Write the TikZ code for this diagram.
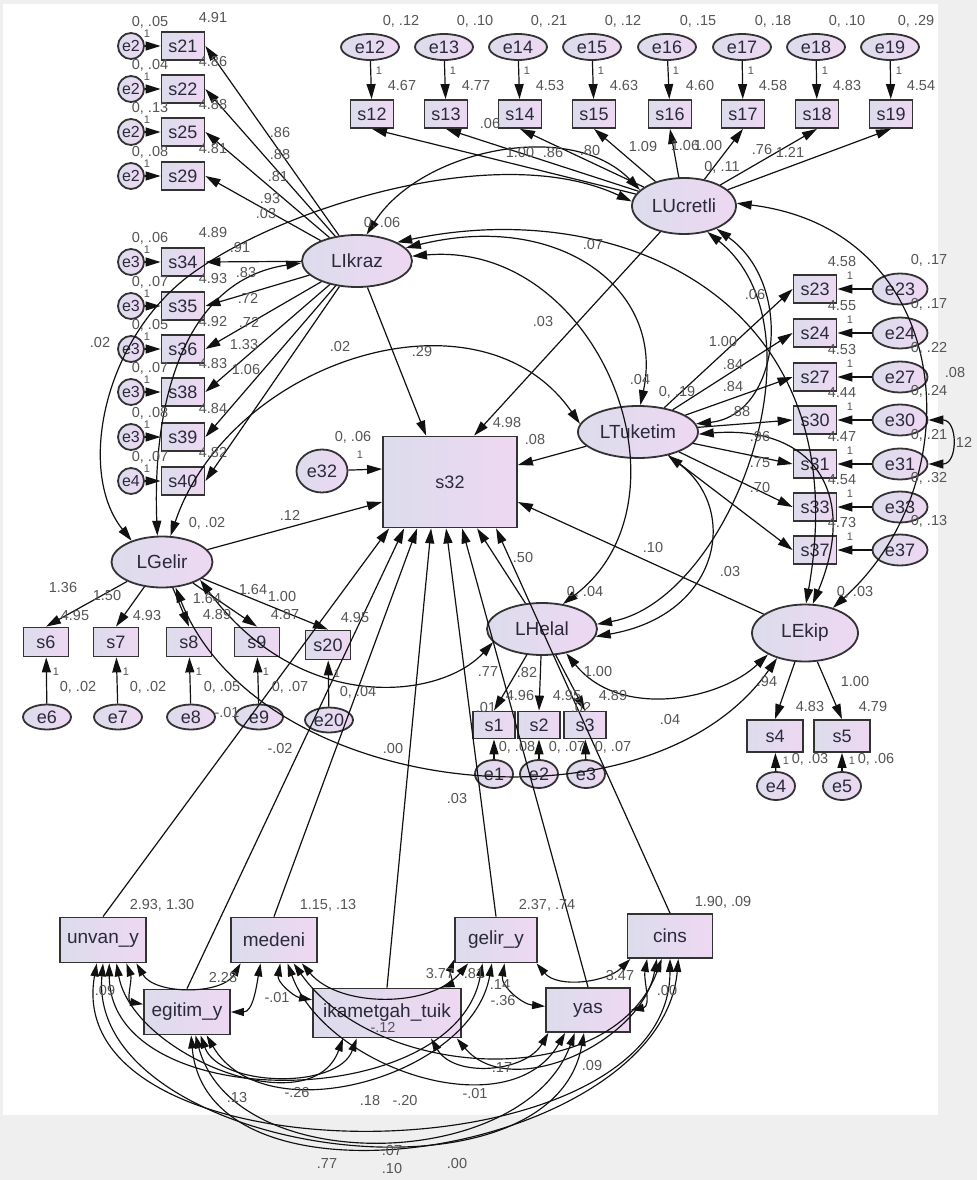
\documentclass[tikz,border=0pt]{standalone}
\usepackage{fontspec}
\setmainfont{Liberation Sans}
\usetikzlibrary{arrows.meta,shapes.geometric,calc}
\definecolor{bord}{HTML}{333333}
\definecolor{fillL}{HTML}{DCDCEC}
\definecolor{fillR}{HTML}{EED8F2}
\definecolor{labc}{HTML}{555555}
\definecolor{txt}{HTML}{2A2A3A}
\definecolor{bgg}{HTML}{EFEFEF}
\definecolor{ln}{HTML}{111111}
\begin{document}
\begin{tikzpicture}[x=1pt,y=-1pt,
 base/.style={draw=bord, line width=1.8pt, left color=fillL, right color=fillR, inner sep=0pt, text=txt, font=\fontsize{18}{18}\selectfont},
 sbox/.style={base, rectangle, minimum width=43pt, minimum height=28pt},
 gbox/.style={base, rectangle, minimum width=45pt, minimum height=29pt},
 hbox/.style={base, rectangle, minimum width=42pt, minimum height=27pt},
 kbox/.style={base, rectangle, minimum width=56pt, minimum height=32pt},
 bbox/.style={base, rectangle, minimum width=86pt, minimum height=45pt, font=\fontsize{19}{19}\selectfont},
 lat/.style={base, ellipse, font=\fontsize{19}{19}\selectfont},
 errT/.style={base, ellipse, minimum width=58pt, minimum height=26pt},
 errR/.style={base, ellipse, minimum width=55pt, minimum height=31pt},
 errC/.style={base, circle, minimum size=26pt, font=\fontsize{16}{16}\selectfont},
 errG/.style={base, ellipse, minimum width=48pt, minimum height=25pt},
 errS/.style={base, ellipse, minimum width=38pt, minimum height=28pt},
 lb/.style={font=\fontsize{14.5}{14.5}\selectfont, text=labc, inner sep=0pt},
 lbo/.style={font=\fontsize{11}{11}\selectfont, text=labc, inner sep=0pt},
 pth/.style={draw=ln, line width=1.2pt, -{Triangle[length=15pt,width=9pt]}},
 cov/.style={draw=ln, line width=1.2pt, {Triangle[length=15pt,width=9pt]}-{Triangle[length=15pt,width=9pt]}},
 cvb/.style={draw=ln, line width=1.15pt, {Triangle[length=13pt,width=8pt]}-{Triangle[length=13pt,width=8pt]}}
]
\useasboundingbox (0,0) rectangle (977,1180);
\fill[bgg] (0,0) rectangle (977,1180);
\fill[white] (3,4) rectangle (938,1115);

% ---------- latent variables ----------
\node[lat, minimum width=110pt, minimum height=52pt] (LI) at (357,261) {LIkraz};
\node[lat, minimum width=104pt, minimum height=56pt] (LU) at (684,206) {LUcretli};
\node[lat, minimum width=120pt, minimum height=52pt] (LT) at (638,432) {LTuketim};
\node[lat, minimum width=101pt, minimum height=51pt] (LG) at (162,562) {LGelir};
\node[lat, minimum width=110pt, minimum height=52pt] (LH) at (542,629) {LHelal};
\node[lat, minimum width=106pt, minimum height=57pt] (LE) at (805,633) {LEkip};
\node[base, rectangle, minimum width=134pt, minimum height=91pt] (s32) at (450,482) {s32};
\node[base, ellipse, minimum width=51pt, minimum height=43pt] (e32) at (322,471) {e32};

% ---------- top row ----------
\foreach \i/\x/\sx in {12/370/372, 13/444/446, 14/518/520, 15/592/594, 16/667/670, 17/742/743, 18/816/817, 19/890/891}{
  \node[errT] (e\i) at (\x,47) {e\i};
  \node[sbox] (s\i) at (\sx,114) {s\i};
}
% ---------- left column ----------
\foreach \i/\y/\e in {21/46/e2, 22/89/e2, 25/132/e2, 29/176/e2, 34/262/e3, 35/306/e3, 36/349/e3, 38/392/e3, 39/437/e3, 40/481/e4}{
  \node[errC] (c\i) at (131,\y) {\e};
  \node[sbox] (s\i) at (183,\y) {s\i};
}
% ---------- right column ----------
\foreach \i/\y in {23/289, 24/333, 27/377, 30/420, 31/464, 33/507, 37/550}{
  \node[sbox] (s\i) at (815,\y) {s\i};
  \node[errR] (e\i) at (900,\y) {e\i};
}
% ---------- LGelir indicators ----------
\foreach \i/\sx/\ex in {6/46/47, 7/116/118, 8/189/191, 9/257/259}{
  \node[gbox] (s\i) at (\sx,642) {s\i};
  \node[errG] (e\i) at (\ex,717) {e\i};
}
\node[gbox] (s20) at (328,645) {s20};
\node[errG] (e20) at (329,720) {e20};
% ---------- LHelal / LEkip indicators ----------
\foreach \i/\sx/\ex in {1/494/494, 2/539/539, 3/585/586}{
  \node[hbox] (s\i) at (\sx,725) {s\i};
  \node[errS] (e\i) at (\ex,774) {e\i};
}
\node[kbox] (s4) at (775,736) {s4};
\node[kbox] (s5) at (842,736) {s5};
\node[errS] (e4) at (776,786) {e4};
\node[errS] (e5) at (842,786) {e5};
% ---------- exogenous observed ----------
\node[bbox] (U) at (103,940) {unvan\_y};
\node[bbox] (M) at (274,940) {medeni};
\node[bbox, minimum width=82pt] (G) at (496,940) {gelir\_y};
\node[bbox, minimum width=85pt, minimum height=44pt] (C) at (670,936) {cins};
\node[bbox] (E) at (187,1012) {egitim\_y};
\node[bbox, minimum width=148pt, minimum height=49pt] (I) at (387,1013) {ikametgah\_tuik};
\node[bbox, minimum width=84pt, minimum height=44pt] (Y) at (588,1010) {yas};

% ---------- error paths ----------
\foreach \i in {12,13,14,15,16,17,18,19,23,24,27,30,31,33,37,6,7,8,9,20,1,2,3,4,5}
  \draw[pth] (e\i) -- (s\i);
\foreach \i in {21,22,25,29,34,35,36,38,39,40}
  \draw[pth] (c\i) -- (s\i);
\draw[pth] (e32) -- ([yshift=13pt]s32.west);

% ---------- loadings ----------
\foreach \i in {12,13,14,15,16,17,18,19} \draw[pth] (LU) -- (s\i.south);
\foreach \i in {21,22,25,29,34,35,36,38,39,40} \draw[pth] (LI) -- (s\i.east);
\foreach \i in {23,24,27,30,31,33,37} \draw[pth] (LT) -- (s\i.west);
\foreach \i in {6,7,8,9,20} \draw[pth] (LG) -- (s\i.north);
\foreach \i in {1,2,3} \draw[pth] (LH) -- (s\i.north);
\foreach \i in {4,5} \draw[pth] (LE) -- (s\i.north);

% ---------- structural paths ----------
\draw[pth] (LI) -- ([xshift=44pt]s32.north west);
\draw[pth] (LU) -- ([xshift=92pt]s32.north west);
\draw[pth] (LT) -- ([yshift=17pt]s32.east);
\draw[pth] (LE) -- ([yshift=-20pt]s32.east);
\draw[pth] (LG) -- ([yshift=-20pt]s32.west);
\draw[pth] (LH) -- ([xshift=95pt]s32.south west);
\draw[pth] (U.north) -- ([xshift=7pt]s32.south west);
\draw[pth] (E.north) -- ([xshift=22pt]s32.south west);
\draw[pth] (M.north) -- ([xshift=35pt]s32.south west);
\draw[pth] (I.north) -- ([xshift=49pt]s32.south west);
\draw[pth] (G.north) -- ([xshift=64pt]s32.south west);
\draw[pth] (Y.north) -- ([xshift=80pt]s32.south west);
\draw[pth] (C.north) -- ([xshift=114pt]s32.south west);

% ---------- latent covariances ----------
\draw[cov] (LI.70) .. controls (420,150) and (570,118) .. (LU.160);
\draw[cov] (LG.145) .. controls (75,470) and (105,330) .. (200,268) .. controls (290,206) and (500,140) .. (LU.175);
\draw[cov] (LG.100) .. controls (152,400) and (185,280) .. (LI.182);
\draw[cov] (LG.72) .. controls (230,360) and (480,280) .. (LT.172);
\draw[cov] (LI.15) .. controls (560,210) and (665,290) .. (LT.85);
\draw[cov] (LI.5) .. controls (600,240) and (700,500) .. (LH.50);
\draw[cov] (LI.25) .. controls (620,195) and (860,300) .. (LE.88);
\draw[cov] (LU.-35) .. controls (795,285) and (780,415) .. (LT.8);
\draw[cov] (LU.-48) .. controls (830,330) and (730,600) .. (LH.5);
\draw[cov] (LU.3) .. controls (955,230) and (975,480) .. (LE.42);
\draw[cov] (LT.-2) .. controls (810,425) and (860,490) .. (LE.75);
\draw[cov] (LT.-38) .. controls (740,510) and (720,615) .. (LH.-8);
\draw[cov] (LH.-45) .. controls (620,720) and (720,700) .. (LE.-150);
\draw[cov] (LG.-25) .. controls (300,715) and (440,700) .. (LH.-165);
\draw[cov] (LG.-62) .. controls (260,800) and (650,840) .. (LE.-138);
\draw[cov] (e30.east) .. controls (958,420) and (958,464) .. (e31.east);

% ---------- exogenous covariances ----------
\draw[cvb] (U.-45) to[out=-70,in=170] (E.170);
\draw[cvb] (U.-35) to[out=-60,in=-120,looseness=0.9] (M.-145);
\draw[cvb] (U.-60) to[out=-80,in=-110] (I.-150);
\draw[cvb] (U.-75) to[out=-90,in=-100,looseness=1.05] (G.-120);
\draw[cvb] (U.-90) to[out=-95,in=-100,looseness=1.0] (Y.-100);
\draw[cvb] (U.-105) to[out=-100,in=-90,looseness=1.0] (C.-90);
\draw[cvb] (E.east) to[out=0,in=-100] (M.-120);
\draw[cvb] (E.-60) to[out=-70,in=-110,looseness=0.9] (I.-140);
\draw[cvb] (E.-50) to[out=-60,in=-100] (G.-100);
\draw[cvb] (E.-70) to[out=-75,in=-110] (Y.-120);
\draw[cvb] (E.-80) to[out=-85,in=-95,looseness=1.0] (C.-70);
\draw[cvb] (M.-75) to[out=-100,in=170] (I.170);
\draw[cvb] (M.-40) to[out=-50,in=-130,looseness=0.9] (G.-140);
\draw[cvb] (M.-60) to[out=-70,in=-120] (Y.-135);
\draw[cvb] (M.-50) to[out=-55,in=-110] (C.-110);
\draw[cvb] (I.25) to[out=20,in=-110] (G.-155);
\draw[cvb] (I.-30) to[out=-60,in=-120] (Y.-150);
\draw[cvb] (I.-20) to[out=-50,in=-100] (C.-120);
\draw[cvb] (G.-70) to[out=-100,in=175] (Y.175);
\draw[cvb] (G.-30) to[out=-50,in=-135,looseness=0.9] (C.-150);
\draw[cvb] (Y.east) to[out=10,in=-100] (C.-135);

% ---------- labels: top row ----------
\foreach \i/\x/\sx/\v/\m/\d in {12/370/372/.12/4.67/31, 13/444/446/.10/4.77/31, 14/518/520/.21/4.53/31, 15/592/594/.12/4.63/31, 16/667/670/.15/4.60/31, 17/742/743/.18/4.58/31, 18/816/817/.10/4.83/31, 19/890/891/.29/4.54/26}{
  \node[lb] (v\i) at (\x+\d,21) {0, \v};
  \node[lbo] (o\i) at (\x+9,71) {1};
  \node[lb] (m\i) at (\sx+30,86) {\m};
}
% ---------- labels: left column ----------
\foreach \i/\y/\v/\m/\t in {21/46/.05/4.91/28, 22/89/.04/4.86/27, 25/132/.13/4.88/27, 29/176/.08/4.81/27, 34/262/.06/4.89/29, 35/306/.07/4.93/27, 36/349/.05/4.92/27, 38/392/.07/4.83/28, 39/437/.08/4.84/28, 40/481/.07/4.82/28}{
  \node[lb] (v\i) at (150,\y-24) {0, \v};
  \node[lbo] (o\i) at (147,\y-12) {1};
  \node[lb] (m\i) at (213,\y-\t) {\m};
}
% ---------- labels: right column ----------
\foreach \i/\y/\v/\m in {23/289/.17/4.58, 24/333/.17/4.55, 27/377/.22/4.53, 30/420/.24/4.44, 31/464/.21/4.47, 33/507/.32/4.54, 37/550/.13/4.73}{
  \node[lb] (v\i) at (929,\y-29) {0, \v};
  \node[lbo] (o\i) at (850,\y-13) {1};
  \node[lb] (m\i) at (842,\y-27) {\m};
}
% ---------- labels: latent part ----------
\node[lb] (L1) at (382,223) {0, .06};
\node[lb] (L2) at (490,124) {.06};
\node[lb] (L3) at (520,153) {1.00};
\node[lb] (L4) at (553,153) {.86};
\node[lb] (L5) at (590,151) {.80};
\node[lb] (L6) at (643,147) {1.09};
\node[lb] (L7) at (685,146) {1.06};
\node[lb] (L8) at (708,146) {1.00};
\node[lb] (L9) at (762,150) {.76};
\node[lb] (L10) at (790,152) {1.21};
\node[lb] (L11) at (722,167) {0, .11};
\node[lb] (L12) at (280,133) {.86};
\node[lb] (L13) at (280,155) {.88};
\node[lb] (L14) at (278,177) {.81};
\node[lb] (L15) at (270,199) {.93};
\node[lb] (L16) at (266,214) {.03};
\node[lb] (L17) at (240,248) {.91};
\node[lb] (L18) at (246,273) {.83};
\node[lb] (L19) at (248,298) {.72};
\node[lb] (L20) at (249,322) {.72};
\node[lb] (L21) at (244,345) {1.33};
\node[lb] (L22) at (246,370) {1.06};
\node[lb] (L23) at (100,343) {.02};
\node[lb] (L24) at (340,347) {.02};
\node[lb] (L25) at (422,352) {.29};
\node[lb] (L26) at (543,322) {.03};
\node[lb] (L27) at (640,380) {.04};
\node[lb] (L28) at (677,392) {0, .19};
\node[lb] (L29) at (593,245) {.07};
\node[lb] (L30) at (507,423) {4.98};
\node[lb] (L31) at (535,440) {.08};
\node[lb] (L32) at (353,437) {0, .06};
\node[lbo] (L33) at (360,455) {1};
\node[lb] (L34) at (290,515) {.12};
\node[lb] (L35) at (207,523) {0, .02};
\node[lb] (L36) at (755,295) {.06};
\node[lb] (L37) at (723,342) {1.00};
\node[lb] (L38) at (733,365) {.84};
\node[lb] (L39) at (733,387) {.84};
\node[lb] (L40) at (740,412) {.88};
\node[lb] (L41) at (760,437) {.96};
\node[lb] (L42) at (760,463) {.75};
\node[lb] (L43) at (760,488) {.70};
\node[lb] (L44) at (955,373) {.08};
\node[lb] (L45) at (962,442) {.12};
\node[lb] (L46) at (653,548) {.10};
\node[lb] (L47) at (730,572) {.03};
\node[lb] (L48) at (855,592) {0, .03};
\node[lb] (L49) at (585,592) {0, .04};
\node[lb] (L50) at (523,558) {.50};
\node[lb] (L51) at (488,672) {.77};
\node[lb] (L52) at (527,673) {.82};
\node[lb] (L53) at (598,672) {1.00};
\node[lb] (L54) at (520,696) {4.96};
\node[lb] (L55) at (567,696) {4.95};
\node[lb] (L56) at (613,696) {4.89};
\node[lb] (L57) at (486,708) {.01};
\node[lb] (L58) at (581,708) {.02};
\node[lb] (L59) at (517,747) {0, .08};
\node[lb] (L60) at (567,747) {0, .07};
\node[lb] (L61) at (613,747) {0, .07};
\node[lb] (L62) at (670,720) {.04};
\node[lb] (L63) at (767,682) {.94};
\node[lb] (L64) at (855,682) {1.00};
\node[lb] (L65) at (810,707) {4.83};
\node[lb] (L66) at (873,707) {4.79};
\node[lb] (L67) at (810,759) {0, .03};
\node[lb] (L68) at (876,759) {0, .06};
\node[lbo] (L69) at (786,761) {1};
\node[lbo] (L70) at (852,761) {1};
% ---------- labels: LGelir ----------
\node[lb] (L71) at (63,588) {1.36};
\node[lb] (L72) at (107,596) {1.50};
\node[lb] (L73) at (75,616) {4.95};
\node[lb] (L74) at (147,616) {4.93};
\node[lb] (L75) at (207,599) {1.64};
\node[lb] (L76) at (217,615) {4.89};
\node[lb] (L77) at (253,590) {1.64};
\node[lb] (L78) at (282,597) {1.00};
\node[lb] (L79) at (285,615) {4.87};
\node[lb] (L80) at (355,618) {4.95};
\node[lb] (L81) at (78,687) {0, .02};
\node[lb] (L82) at (148,687) {0, .02};
\node[lb] (L83) at (222,687) {0, .05};
\node[lb] (L84) at (290,687) {0, .07};
\node[lb] (L85) at (358,692) {0, .04};
\node[lb] (L86) at (227,713) {-.01};
\node[lbo] (L87) at (56,672) {1};
\node[lbo] (L88) at (126,672) {1};
\node[lbo] (L89) at (199,672) {1};
\node[lbo] (L90) at (266,672) {1};
\node[lbo] (L91) at (337,674) {1};
\node[lb] (L92) at (280,749) {-.02};
\node[lb] (L93) at (393,748) {.00};
\node[lb] (L94) at (457,798) {.03};
% ---------- labels: exogenous ----------
\node[lb] (L95) at (162,905) {2.93, 1.30};
\node[lb] (L96) at (328,905) {1.15, .13};
\node[lb] (L97) at (547,905) {2.37, .74};
\node[lb] (L98) at (723,902) {1.90, .09};
\node[lb] (L99) at (223,977) {2.28};
\node[lb] (L100) at (440,973) {3.77};
\node[lb] (L101) at (474,973) {.81};
\node[lb] (L102) at (620,975) {3.47};
\node[lb] (L103) at (105,990) {.09};
\node[lb] (L104) at (277,997) {-.01};
\node[lb] (L105) at (383,1027) {-.12};
\node[lb] (L106) at (500,985) {.14};
\node[lb] (L107) at (503,1000) {-.36};
\node[lb] (L108) at (667,990) {.00};
\node[lb] (L109) at (237,1097) {.13};
\node[lb] (L110) at (297,1092) {-.26};
\node[lb] (L111) at (370,1100) {.18};
\node[lb] (L112) at (405,1100) {-.20};
\node[lb] (L113) at (502,1067) {.17};
\node[lb] (L114) at (475,1093) {-.01};
\node[lb] (L115) at (592,1065) {.09};
\node[lb] (L116) at (327,1163) {.77};
\node[lb] (L117) at (392,1150) {.07};
\node[lb] (L118) at (392,1168) {.10};
\node[lb] (L119) at (457,1163) {.00};
\end{tikzpicture}
\end{document}
